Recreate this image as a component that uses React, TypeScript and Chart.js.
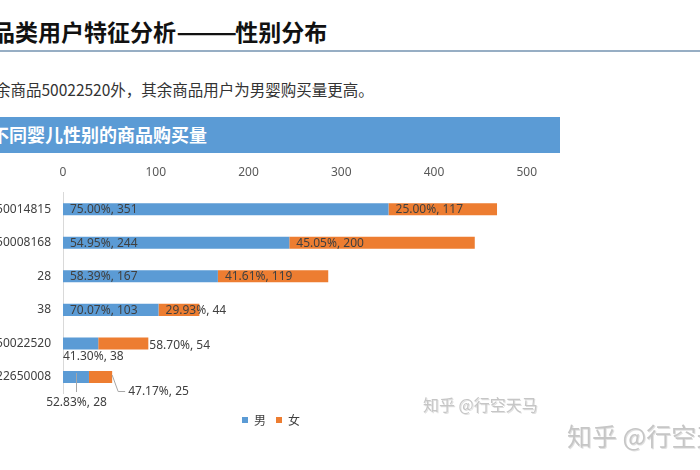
import React, { useEffect, useRef } from 'react';
import { Chart, registerables } from 'chart.js';

Chart.register(...registerables);

// Purchases per product category, split by the baby's gender
const categories = ['50014815', '50008168', '28', '38', '50022520', '122650008'];
const maleCounts = [351, 244, 167, 103, 38, 28];
const femaleCounts = [117, 200, 119, 44, 54, 25];
const seriesNames = ['男', '女'];
const axisTicks = [0, 100, 200, 300, 400, 500];

// How each row's value labels are laid out
const labelPlacement = ['inside', 'inside', 'inside', 'inside', 'outside', 'callout'];

const seriesColors = ['#5B9BD5', '#ED7D31'];
const latinFont = '"Noto Sans", "Noto Sans CJK SC", sans-serif';
const cjkFont = '"Noto Sans CJK SC", "Noto Sans", sans-serif';

const valueLabels = {
  id: 'valueLabels',
  afterDatasetsDraw(chart: any) {
    const ctx = chart.ctx as CanvasRenderingContext2D;
    const totals = categories.map((_, i) => maleCounts[i] + femaleCounts[i]);
    ctx.save();
    ctx.font = `12px ${latinFont}`;
    ctx.fillStyle = '#404040';
    ctx.strokeStyle = '#a6a6a6';
    ctx.lineWidth = 1;
    ctx.textBaseline = 'middle';
    chart.data.datasets.forEach((ds: any, di: number) => {
      const meta = chart.getDatasetMeta(di);
      meta.data.forEach((bar: any, i: number) => {
        const v = ds.data[i] as number;
        const text = `${((v / totals[i]) * 100).toFixed(2)}%, ${v}`;
        const { x, y, base } = bar.getProps(['x', 'y', 'base'], true);
        const mode = labelPlacement[i];
        ctx.textAlign = 'left';
        if (mode === 'inside') {
          ctx.fillText(text, base + 7, y + 0.5);
        } else if (mode === 'outside') {
          if (di === 0) ctx.fillText(text, base, y + 13);
          else ctx.fillText(text, x + 1, y + 2);
        } else if (di === 0) {
          const mid = Math.round((base + x) / 2) + 0.5;
          ctx.beginPath();
          ctx.moveTo(mid, y - 4);
          ctx.lineTo(mid, y + 15);
          ctx.stroke();
          ctx.textAlign = 'center';
          ctx.fillText(text, mid, y + 26);
        } else {
          ctx.beginPath();
          ctx.moveTo(x, y - 2);
          ctx.lineTo(x + 6, y + 14.5);
          ctx.lineTo(x + 13, y + 14.5);
          ctx.stroke();
          ctx.fillText(text, x + 16, y + 15);
        }
      });
    });
    ctx.restore();
  },
};

function GenderChart() {
  const ref = useRef<HTMLCanvasElement | null>(null);

  useEffect(() => {
    if (!ref.current) return;
    const chart = new Chart(ref.current, {
      type: 'bar',
      data: {
        labels: categories,
        datasets: [
          {
            label: seriesNames[0],
            data: maleCounts,
            backgroundColor: seriesColors[0],
            borderWidth: 0,
            barPercentage: 0.36,
            categoryPercentage: 1,
          },
          {
            label: seriesNames[1],
            data: femaleCounts,
            backgroundColor: seriesColors[1],
            borderWidth: 0,
            barPercentage: 0.36,
            categoryPercentage: 1,
          },
        ],
      },
      options: {
        indexAxis: 'y',
        responsive: false,
        animation: false,
        layout: { padding: { top: 2, left: 0, right: 8, bottom: 0 } },
        scales: {
          x: {
            type: 'linear',
            position: 'top',
            stacked: true,
            min: 0,
            max: 500,
            afterBuildTicks: (scale: any) => {
              scale.ticks = axisTicks.map((value) => ({ value }));
            },
            ticks: { padding: 13, color: '#595959', font: { size: 12, family: latinFont } },
            grid: { display: false, drawTicks: false },
            border: { display: false },
          },
          y: {
            stacked: true,
            afterFit: (scale: any) => {
              scale.width = 63;
            },
            ticks: { padding: 12, color: '#404040', font: { size: 12, family: latinFont } },
            grid: { display: false, drawTicks: false },
            border: { display: true, color: '#d9d9d9', width: 1 },
          },
        },
        plugins: {
          legend: {
            position: 'bottom',
            labels: {
              boxWidth: 6,
              boxHeight: 6,
              padding: 10,
              color: '#404040',
              font: { size: 12, family: cjkFont },
            },
            title: { display: true, text: '', padding: { top: 9, bottom: 0 }, font: { size: 1 } },
          },
          tooltip: { enabled: false },
        },
      },
      plugins: [valueLabels],
    });
    return () => chart.destroy();
  }, []);

  return (
    <canvas
      ref={ref}
      width={550}
      height={286}
      style={{ position: 'absolute', left: 0, top: 150, width: 550, height: 286 }}
    />
  );
}

export default function App() {
  return (
    <div
      style={{
        position: 'absolute',
        left: 0,
        top: 0,
        width: 700,
        height: 470,
        overflow: 'hidden',
        background: '#ffffff',
        fontFamily: cjkFont,
      }}
    >
      <div
        style={{
          position: 'absolute',
          left: -31,
          top: 20,
          fontSize: 23,
          lineHeight: 1,
          fontWeight: 700,
          color: '#111111',
          whiteSpace: 'nowrap',
        }}
      >
        商品类用户特征分析
        <span
          style={{
            display: 'inline-block',
            transform: 'scaleX(1.57)',
            transformOrigin: '0 50%',
            marginRight: 20,
          }}
        >
          ——
        </span>
        性别分布
      </div>
      <div style={{ position: 'absolute', left: 0, top: 50, width: 700, height: 2, background: '#97aec4' }} />
      <div
        style={{
          position: 'absolute',
          left: -5,
          top: 82,
          fontSize: 15.5,
          lineHeight: 1,
          color: '#333333',
          whiteSpace: 'nowrap',
        }}
      >
        余商品50022520外，其余商品用户为男婴购买量更高。
      </div>
      <div style={{ position: 'absolute', left: 0, top: 117, width: 560, height: 36, background: '#5B9BD5' }} />
      <div
        style={{
          position: 'absolute',
          left: -9,
          top: 125,
          fontSize: 18,
          lineHeight: 1,
          fontWeight: 700,
          color: '#ffffff',
          whiteSpace: 'nowrap',
        }}
      >
        不同婴儿性别的商品购买量
      </div>
      <GenderChart />
      <div
        style={{
          position: 'absolute',
          left: 423,
          top: 396,
          fontSize: 16,
          lineHeight: 1,
          color: '#c6c6c6',
          textShadow: '1px 1px 0 rgba(0,0,0,0.12)',
          whiteSpace: 'nowrap',
        }}
      >
        知乎 @行空天马
      </div>
      <div
        style={{
          position: 'absolute',
          left: 567,
          top: 423,
          fontSize: 25,
          lineHeight: 1,
          color: '#c6c6c6',
          textShadow: '1px 1px 0 rgba(0,0,0,0.12)',
          whiteSpace: 'nowrap',
        }}
      >
        知乎 @行空天马
      </div>
    </div>
  );
}
